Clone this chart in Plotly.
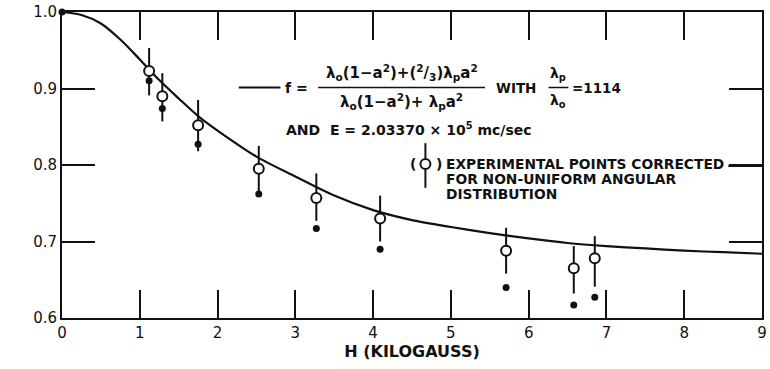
import plotly.graph_objects as go

# Field strength H (kilogauss) for the measured points
h_points = [1.12, 1.29, 1.75, 2.53, 3.27, 4.09, 5.71, 6.58, 6.85]
# Corrected values (open circles) and their uncertainties
f_corrected = [0.923, 0.890, 0.852, 0.795, 0.757, 0.730, 0.688, 0.665, 0.678]
f_err_plus = [0.030, 0.030, 0.033, 0.030, 0.032, 0.030, 0.030, 0.029, 0.029]
f_err_minus = [0.032, 0.033, 0.034, 0.030, 0.030, 0.030, 0.030, 0.033, 0.037]
# Uncorrected values (filled dots), including the reference point at H = 0
h_raw = [0.0, 1.12, 1.29, 1.75, 2.53, 3.27, 4.09, 5.71, 6.58, 6.85]
f_raw = [1.0, 0.910, 0.874, 0.827, 0.762, 0.717, 0.690, 0.640, 0.617, 0.627]

# Theoretical curve, sampled along its drawn path
h_curve = [0, 0.25, 0.5, 0.75, 1.0, 1.25, 1.5, 1.75, 2.0, 2.5, 3.0, 3.5,
           4.0, 4.5, 5.0, 5.5, 6.0, 6.5, 7.0, 7.5, 8.0, 8.5, 9.0]
f_curve = [1.0, 0.996, 0.985, 0.964, 0.938, 0.911, 0.887, 0.864, 0.845,
           0.811, 0.785, 0.760, 0.741, 0.728, 0.719, 0.711, 0.704, 0.698,
           0.694, 0.691, 0.688, 0.686, 0.684]

x_ticks = [0, 1, 2, 3, 4, 5, 6, 7, 8, 9]
y_ticks = [0.6, 0.7, 0.8, 0.9, 1.0]
y_tick_text = ["0.6", "0.7", "0.8", "0.9", "1.0"]

INK = "#111111"
FONT = "DejaVu Sans"

fig = go.Figure()

fig.add_trace(go.Scatter(
    x=h_curve, y=f_curve, mode="lines",
    line=dict(color=INK, width=2.2, shape="spline", smoothing=0.8),
    hoverinfo="skip", showlegend=False,
))

fig.add_trace(go.Scatter(
    x=h_raw, y=f_raw, mode="markers",
    marker=dict(symbol="circle", size=7, color=INK),
    cliponaxis=False, showlegend=False,
))

fig.add_trace(go.Scatter(
    x=h_points, y=f_corrected, mode="markers",
    marker=dict(symbol="circle", size=10, color="white",
                line=dict(color=INK, width=2)),
    error_y=dict(type="data", symmetric=False, array=f_err_plus,
                 arrayminus=f_err_minus, color=INK, thickness=2, width=0),
    showlegend=False,
))


def px_x(p):
    return (p - 62) / 78.33


def px_y(p):
    return 1.0 - (p - 10) / 770.0


ann = []


def label(px, py, text, size=13, xanchor="left", weight="bold"):
    ann.append(dict(x=px_x(px), y=px_y(py), xref="x", yref="y", text=text,
                    showarrow=False, xanchor=xanchor, yanchor="middle",
                    font=dict(family=FONT, size=size, color=INK,
                              weight=weight)))


lam_o = "λ<sub>o</sub>"
lam_p = "λ<sub>p</sub>"
label(285, 86, "f =", 14)
label(404, 71, f"{lam_o}(1−a<sup>2</sup>)+(<sup>2</sup>/<sub>3</sub>){lam_p}a<sup>2</sup>",
      15, "center")
label(404, 100, f"{lam_o}(1−a<sup>2</sup>)+ {lam_p}a<sup>2</sup>", 15, "center")
label(497, 86, "WITH", 13.5)
label(562, 72, lam_p, 14, "center")
label(562, 100, lam_o, 14, "center")
label(574, 86, "=1114", 13.5)
label(286, 128, "AND  E = 2.03370 × 10<sup>5</sup> mc/sec", 14)
label(410, 163, "(", 14)
label(437, 163, ")", 14)
label(447, 163, "EXPERIMENTAL POINTS CORRECTED", 13.8)
label(447, 178, "FOR NON-UNIFORM ANGULAR", 13.8)
label(447, 193, "DISTRIBUTION", 13.8)
label(15, 165, "f", 16, "center", "normal")

shapes = [
    # legend line sample and fraction bars
    dict(type="line", x0=px_x(240), x1=px_x(282), y0=px_y(86), y1=px_y(86),
         line=dict(color=INK, width=2)),
    dict(type="line", x0=px_x(320), x1=px_x(488), y0=px_y(86), y1=px_y(86),
         line=dict(color=INK, width=1.5)),
    dict(type="line", x0=px_x(552), x1=px_x(572), y0=px_y(86), y1=px_y(86),
         line=dict(color=INK, width=1.5)),
    # line after "CORRECTED"
    dict(type="line", x0=px_x(733), x1=px_x(767), y0=px_y(165), y1=px_y(165),
         line=dict(color=INK, width=2)),
    # legend key: point with error bar
    dict(type="line", x0=px_x(428), x1=px_x(428), y0=px_y(142), y1=px_y(187),
         line=dict(color=INK, width=2)),
    dict(type="circle", x0=px_x(423), x1=px_x(433), y0=px_y(158), y1=px_y(168),
         fillcolor="white", line=dict(color=INK, width=2)),
]

axis_common = dict(
    showgrid=False, zeroline=False, showline=True, linecolor=INK, linewidth=2,
    mirror="ticks", ticks="inside", tickcolor=INK, tickwidth=2,
    tickfont=dict(family=FONT, size=15, color=INK),
)

fig.update_layout(
    width=770, height=369,
    margin=dict(l=62, r=3, t=10, b=51),
    paper_bgcolor="white", plot_bgcolor="white",
    xaxis=dict(range=[0, 9], tickvals=x_ticks, ticklen=28,
               title=dict(text="H (KILOGAUSS)", standoff=4,
                          font=dict(family=FONT, size=16, color=INK,
                                    weight="bold")),
               **axis_common),
    yaxis=dict(range=[0.6, 1.0], tickvals=y_ticks, ticktext=y_tick_text,
               ticklen=33, **axis_common),
    annotations=ann, shapes=shapes,
)

fig.write_html("out.html")
